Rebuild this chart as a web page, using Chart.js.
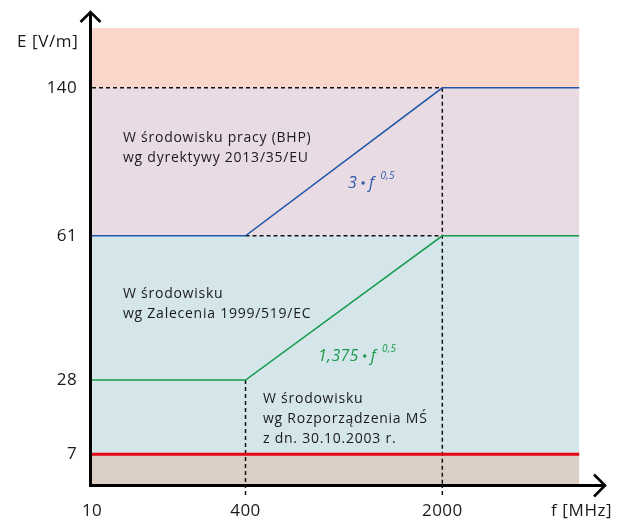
<!DOCTYPE html>
<html><head><meta charset="utf-8">
<script src="https://cdn.jsdelivr.net/npm/chart.js@4/dist/chart.umd.min.js"></script>
<style>html,body{margin:0;padding:0;background:#fff;}canvas{display:block;}</style>
</head><body>
<canvas id="c" width="617" height="522"></canvas>
<script>
// ---------- data ----------
const xTicks = [10, 400, 2000];            // f [MHz]
const yTicks = [7, 28, 61, 140];           // E [V/m]
const fBreaks = [10, 400, 2000, 3000];     // frequency breakpoints (last = right end of plot)
const workLimit = [61, 61, 140, 140];      // W środowisku pracy (BHP), 2013/35/EU
const publicLimit = [28, 28, 61, 61];      // Zalecenie 1999/519/EC
const nationalLimit = [7, 7, 7, 7];        // Rozporządzenie MŚ 30.10.2003
const bandTops = [7, 61, 140, 200];
const bandBottoms = [0, 7, 61, 140];
const bandColors = ['#dccfc5', '#d4e6ea', '#e8dbe4', '#f9d5ca'];

// ---------- schematic (piecewise) scale ----------
class PiecewiseScale extends Chart.LinearScale {
  static id = 'piecewise';
  static defaults = Chart.LinearScale.defaults;
  buildTicks() {
    this.start = this.min; this.end = this.max;
    return this.options.tickValues.map(v => ({value: v}));
  }
  _frac(v) {
    const a = this.options.anchors;
    for (let i = 1; i < a.length; i++) {
      if (v <= a[i][0] || i === a.length - 1) {
        const [v0, f0] = a[i - 1], [v1, f1] = a[i];
        return f0 + (v - v0) / (v1 - v0) * (f1 - f0);
      }
    }
  }
  getPixelForValue(v) {
    return v == null ? NaN : this.getPixelForDecimal(this._frac(v));
  }
  getValueForPixel(p) {
    const d = this.getDecimalForPixel(p), a = this.options.anchors;
    for (let i = 1; i < a.length; i++) {
      if (d <= a[i][1] || i === a.length - 1) {
        const [v0, f0] = a[i - 1], [v1, f1] = a[i];
        return v0 + (d - f0) / (f1 - f0) * (v1 - v0);
      }
    }
  }
}
Chart.register(PiecewiseScale);

const pts = (xs, ys) => xs.map((x, i) => ({x, y: ys[i]}));
const lineDs = (data, color, w, dash) => ({
  data, borderColor: color, borderWidth: w, borderDash: dash || [],
  pointRadius: 0, fill: false, tension: 0
});

const datasets = [
  lineDs(pts(fBreaks, nationalLimit), '#e30613', 3),
  lineDs(pts(fBreaks, workLimit), '#1f56a8', 1.5),
  lineDs(pts(fBreaks, publicLimit), '#149a4a', 1.5),
  lineDs(pts([fBreaks[0], fBreaks[2]], [workLimit[2], workLimit[2]]), '#111', 1.5, [4, 3]),
  lineDs(pts([fBreaks[1], fBreaks[2]], [workLimit[1], workLimit[1]]), '#111', 1.5, [4, 3]),
  lineDs(pts([fBreaks[1], fBreaks[1]], [publicLimit[1], bandBottoms[0]]), '#111', 1.5, [4, 3]),
  lineDs(pts([fBreaks[2], fBreaks[2]], [workLimit[2], bandBottoms[0]]), '#111', 1.5, [4, 3]),
];
bandTops.forEach((t, i) => {
  datasets.push({
    data: pts([fBreaks[0], fBreaks[fBreaks.length - 1]], [t, t]),
    borderWidth: 0, pointRadius: 0, backgroundColor: bandColors[i],
    fill: {value: bandBottoms[i]}
  });
});

const FONT = '"Open Sans", sans-serif';
const TXT = '#1a1a1a';

const overlay = {
  id: 'overlay',
  beforeDraw(chart) {
    chart.ctx.letterSpacing = '0.4px';
  },
  afterDraw(chart) {
    const {ctx, chartArea: a, scales: {x, y}} = chart;
    ctx.save();
    // dashed tails below the axis
    ctx.strokeStyle = '#111'; ctx.lineWidth = 1.5; ctx.setLineDash([4, 3]);
    xTicks.slice(1).forEach(v => {
      const px = x.getPixelForValue(v);
      ctx.beginPath(); ctx.moveTo(px, a.bottom); ctx.lineTo(px, a.bottom + 11); ctx.stroke();
    });
    ctx.setLineDash([]);
    // axes with arrows
    const ax = a.left - 1.5, ay = a.bottom + 1.5;
    ctx.strokeStyle = '#000'; ctx.lineWidth = 3;
    ctx.beginPath(); ctx.moveTo(ax, ay + 1.5); ctx.lineTo(ax, 12); ctx.stroke();
    ctx.beginPath(); ctx.moveTo(ax - 1.5, ay); ctx.lineTo(605, ay); ctx.stroke();
    ctx.lineJoin = 'miter'; ctx.lineWidth = 2.6;
    ctx.beginPath(); ctx.moveTo(ax - 10, 22); ctx.lineTo(ax, 12); ctx.lineTo(ax + 10, 22); ctx.stroke();
    ctx.beginPath(); ctx.moveTo(594, ay - 11); ctx.lineTo(605, ay); ctx.lineTo(594, ay + 11); ctx.stroke();
    // axis titles
    ctx.fillStyle = TXT; ctx.textBaseline = 'alphabetic'; ctx.textAlign = 'left';
    ctx.font = '17px ' + FONT; ctx.letterSpacing = '0.6px';
    ctx.fillText('E [V/m]', 17, 47);
    ctx.fillText('f [MHz]', 551, 516);
    // region labels
    ctx.font = '500 14px ' + FONT; ctx.letterSpacing = '0.75px';
    ctx.fillText('W środowisku pracy (BHP)', 123, 142);
    ctx.fillText('wg dyrektywy 2013/35/EU', 123, 162);
    ctx.fillText('W środowisku', 123, 298);
    ctx.fillText('wg Zalecenia 1999/519/EC', 123, 318);
    ctx.fillText('W środowisku', 263, 403);
    ctx.fillText('wg Rozporządzenia MŚ', 263, 423);
    ctx.fillText('z dn. 30.10.2003 r.', 263, 443);
    // formulas
    ctx.letterSpacing = '0.3px';
    const formula = (coef, x0, y0, color) => {
      ctx.fillStyle = color;
      ctx.font = 'italic 16px ' + FONT;
      ctx.fillText(coef, x0, y0);
      let cx = x0 + ctx.measureText(coef).width + 4;
      ctx.beginPath(); ctx.arc(cx + 2, y0 - 5, 1.7, 0, Math.PI * 2); ctx.fill();
      cx += 8;
      ctx.fillText('f', cx, y0);
      cx += ctx.measureText('f').width + 6;
      ctx.font = 'italic 10px ' + FONT;
      ctx.fillText('0,5', cx, y0 - 9);
    };
    formula('3', 348, 188, '#2a5ca8');
    formula('1,375', 318, 361, '#1a9a4a');
    ctx.restore();
  }
};

new Chart(document.getElementById('c'), {
  type: 'line',
  data: {datasets},
  options: {
    responsive: false, animation: false, devicePixelRatio: 1,
    layout: {padding: {top: 28, right: 37.5, left: 0, bottom: 0}},
    plugins: {legend: {display: false}, tooltip: {enabled: false}},
    scales: {
      x: {
        type: 'piecewise', min: 10, max: 3000,
        anchors: [[10, 0], [400, 0.3149], [2000, 0.7186], [3000, 1]],
        tickValues: xTicks,
        grid: {display: false, drawTicks: false}, border: {display: false},
        ticks: {autoSkip: false, maxRotation: 0, padding: 17, color: TXT,
          font: {family: FONT, size: 17}, callback: v => String(v)},
        afterFit: s => { s.height = 38; }
      },
      y: {
        type: 'piecewise', min: 0, max: 200,
        anchors: [[0, 0], [7, 0.0651], [28, 0.2281], [61, 0.5443], [140, 0.8689], [200, 1]],
        tickValues: yTicks,
        grid: {display: false, drawTicks: false}, border: {display: false},
        ticks: {autoSkip: false, padding: 15, color: TXT,
          font: {family: FONT, size: 17}, callback: v => String(v)},
        afterFit: s => { s.height = s.height; s.width = 92; }
      }
    }
  },
  plugins: [overlay]
});
</script>
</body></html>
